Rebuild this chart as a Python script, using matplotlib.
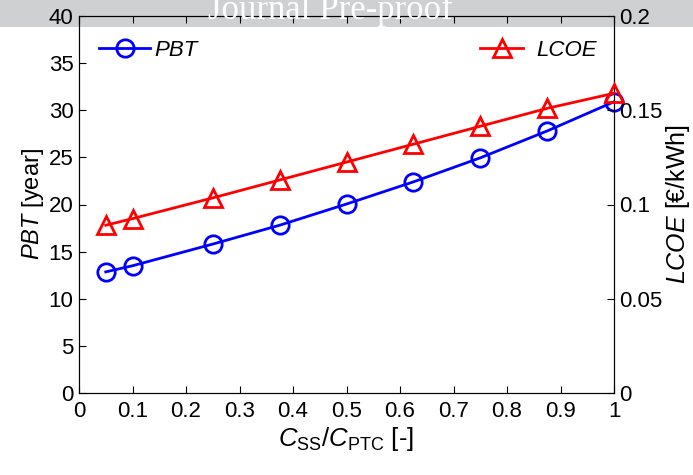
import matplotlib.pyplot as plt
import numpy as np
from matplotlib.patches import Rectangle

plt.rcParams['font.family'] = 'Liberation Sans'
plt.rcParams['mathtext.fontset'] = 'custom'
plt.rcParams['mathtext.rm'] = 'Liberation Sans'
plt.rcParams['mathtext.it'] = 'Liberation Sans:italic'

ratio = [0.05, 0.1, 0.25, 0.375, 0.5, 0.625, 0.75, 0.875, 1.0]
pbt = [12.85, 13.5, 15.8, 17.8, 20.05, 22.4, 24.95, 27.8, 30.9]
lcoe = [0.089, 0.0925, 0.1035, 0.113, 0.1225, 0.132, 0.1415, 0.151, 0.159]

fig = plt.figure(figsize=(6.93, 4.75), dpi=100)
fig.patch.set_facecolor('white')
ax = fig.add_axes([79/693, 1-393/475, 535/693, 377/475])
ax.patch.set_alpha(0)
ax2 = ax.twinx()

l1, = ax.plot(ratio, pbt, color='blue', lw=2, marker='o', ms=12.5,
              mfc='none', mew=2, clip_on=False, zorder=3)
l2, = ax2.plot(ratio, lcoe, color='red', lw=2, marker='^', ms=13.5,
               mfc='none', mew=2, clip_on=False, zorder=3)

ax.set_xlim(0, 1)
ax.set_ylim(0, 40)
ax2.set_ylim(0, 0.2)
ax.set_xticks(np.arange(0, 1.01, 0.1))
ax.set_xticklabels(['0'] + ['%.1f' % v for v in np.arange(0.1, 0.95, 0.1)] + ['1'])
ax.set_yticks(np.arange(0, 41, 5))
ax2.set_yticks([0, 0.05, 0.1, 0.15, 0.2])
ax2.set_yticklabels(['0', '0.05', '0.1', '0.15', '0.2'])

ax.tick_params(axis='x', direction='in', top=True, length=5, labelsize=16, pad=6)
ax.tick_params(axis='y', direction='in', length=5, labelsize=16, pad=4)
ax2.tick_params(axis='y', direction='in', length=5, labelsize=16, pad=4)

ax.set_xlabel(r'$C_{\rm SS}/C_{\rm PTC}$ [-]', fontsize=18.5, labelpad=2)
ax.set_ylabel(r'$PBT$ [year]', fontsize=17, labelpad=2)
ax2.set_ylabel(r'$LCOE$ [€/kWh]', fontsize=18, labelpad=1)

leg1 = ax2.legend([l1], ['PBT'], loc='upper left', frameon=False,
                  prop={'style': 'italic', 'size': 16}, handlelength=2.3,
                  handletextpad=0.2, bbox_to_anchor=(0.0, 0.99))
ax2.add_artist(leg1)
ax2.legend([l2], ['LCOE'], loc='upper right', frameon=False,
           prop={'style': 'italic', 'size': 16}, handlelength=1.9,
           handletextpad=0.6, bbox_to_anchor=(1.005, 0.99))

# watermark band
fig.patches.append(Rectangle((0, 1-27/475), 1, 27/475, transform=fig.transFigure,
                             facecolor='#cfd0d2', edgecolor='none', zorder=-1))
fig.text(330/693, 1-19/475, 'Journal Pre-proof', color='white', fontsize=25,
         family='Liberation Serif', ha='center', va='baseline', zorder=5)

fig.savefig('out.png', dpi=100)
